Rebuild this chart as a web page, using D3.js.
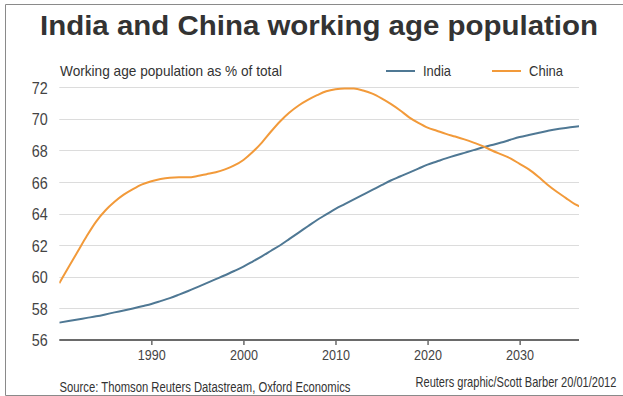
<!DOCTYPE html>
<html>
<head>
<meta charset="utf-8">
<script src="https://cdn.jsdelivr.net/npm/d3@7"></script>
<style>
  html, body { margin: 0; padding: 0; background: #fff; }
  svg { display: block; }
  .narrow { font-family: "Liberation Sans Narrow", "Arial Narrow", "Liberation Sans", Arial, sans-serif; }
</style>
</head>
<body>
<svg id="chart" width="623" height="396"></svg>
<script>
const years = d3.range(1980, 2038);

const india = [
  57.10, 57.20, 57.30, 57.40, 57.50, 57.62, 57.75, 57.87, 58.00, 58.14,
  58.28, 58.46, 58.65, 58.87, 59.10, 59.35, 59.60, 59.85, 60.10, 60.37,
  60.65, 60.97, 61.30, 61.65, 62.00, 62.40, 62.80, 63.20, 63.60, 63.95,
  64.30, 64.60, 64.90, 65.20, 65.50, 65.80, 66.10, 66.35, 66.60, 66.85,
  67.10, 67.30, 67.50, 67.68, 67.85, 68.02, 68.20, 68.35, 68.50, 68.68,
  68.85, 68.98, 69.10, 69.23, 69.35, 69.43, 69.50, 69.58
];

const china = [
  59.60, 60.60, 61.60, 62.60, 63.50, 64.20, 64.75, 65.20, 65.55, 65.85,
  66.05, 66.20, 66.28, 66.30, 66.30, 66.38, 66.50, 66.62, 66.80, 67.05,
  67.40, 67.90, 68.50, 69.20, 69.85, 70.40, 70.85, 71.20, 71.50, 71.75,
  71.88, 71.93, 71.92, 71.80, 71.60, 71.30, 70.95, 70.55, 70.10, 69.75,
  69.45, 69.25, 69.05, 68.88, 68.70, 68.50, 68.28, 68.00, 67.75, 67.50,
  67.15, 66.80, 66.35, 65.85, 65.40, 65.00, 64.60, 64.35
];

const yTicks = [56, 58, 60, 62, 64, 66, 68, 70, 72];
const xTicks = [1990, 2000, 2010, 2020, 2030];
const seriesNames = ["India", "China"];

const colors = { India: "#4f7894", China: "#f29a3a" };

const svg = d3.select("#chart");

const plot = { left: 59.3, right: 579, top: 87.3, bottom: 340 };

const x = d3.scaleLinear().domain([1980, 2036.45]).range([plot.left, plot.right]);
const y = d3.scaleLinear().domain([56, 72]).range([plot.bottom, plot.top]);

// frame
svg.append("path")
  .attr("d", `M623,4.5 H5.5 V395.5 H623`)
  .attr("fill", "none").attr("stroke", "#8a8a8a").attr("stroke-width", 1);

// title
svg.append("text")
  .attr("x", 40).attr("y", 35)
  .style("font-family", "'Liberation Sans', Arial, sans-serif")
  .style("font-weight", "bold")
  .style("font-size", "27.5px")
  .attr("fill", "#333")
  .attr("textLength", 558).attr("lengthAdjust", "spacingAndGlyphs")
  .text("India and China working age population");

// subtitle
svg.append("text").attr("class", "narrow")
  .attr("x", 60).attr("y", 76)
  .style("font-size", "15px").attr("fill", "#333")
  .attr("textLength", 222).attr("lengthAdjust", "spacingAndGlyphs")
  .text("Working age population as % of total");

// gridlines
svg.append("g").selectAll("line")
  .data(yTicks.filter(d => d !== 56))
  .join("line")
  .attr("x1", plot.left).attr("x2", plot.right)
  .attr("y1", d => Math.round(y(d)) + 0.5).attr("y2", d => Math.round(y(d)) + 0.5)
  .attr("stroke", "#dcdcdc").attr("stroke-width", 1);

// y labels
const yAxis = d3.axisLeft(y).tickValues(yTicks).tickSize(0).tickPadding(11.5);
const gy = svg.append("g").attr("transform", `translate(${plot.left},0)`).call(yAxis);
gy.select(".domain").remove();
gy.selectAll("text").attr("class", "narrow")
  .style("font-size", "16.5px").attr("fill", "#444").attr("dy", "0.36em")
  .attr("textLength", 16).attr("lengthAdjust", "spacingAndGlyphs");

// x axis
const xAxis = d3.axisBottom(x).tickValues(xTicks).tickFormat(d3.format("d")).tickSize(5).tickPadding(4);
const gx = svg.append("g").attr("transform", `translate(0,${plot.bottom})`).call(xAxis);
gx.select(".domain").remove();
gx.selectAll(".tick line").attr("stroke", "#444").attr("stroke-width", 1.2);
gx.selectAll("text").attr("class", "narrow")
  .style("font-size", "15px").attr("fill", "#444")
  .attr("textLength", 28).attr("lengthAdjust", "spacingAndGlyphs");
svg.append("line")
  .attr("x1", plot.left).attr("x2", plot.right)
  .attr("y1", plot.bottom).attr("y2", plot.bottom)
  .attr("stroke", "#6a6a6a").attr("stroke-width", 2);

// clip
svg.append("clipPath").attr("id", "clip")
  .append("rect").attr("x", plot.left).attr("y", 0)
  .attr("width", plot.right - plot.left).attr("height", 396);

const line = d3.line().x((d, i) => x(years[i])).y(d => y(d)).curve(d3.curveMonotoneX);

const data = { India: india, China: china };
svg.append("g").attr("clip-path", "url(#clip)")
  .selectAll("path")
  .data(seriesNames)
  .join("path")
  .attr("d", n => line(data[n]))
  .attr("fill", "none")
  .attr("stroke", n => colors[n])
  .attr("stroke-width", 2)
  .attr("stroke-linejoin", "round");

// legend
const legend = [
  { name: "India", x1: 386, x2: 415, tx: 423, w: 28 },
  { name: "China", x1: 492, x2: 521, tx: 529, w: 34 }
];
const lg = svg.append("g");
lg.selectAll("line").data(legend).join("line")
  .attr("x1", d => d.x1).attr("x2", d => d.x2)
  .attr("y1", 71).attr("y2", 71)
  .attr("stroke", d => colors[d.name]).attr("stroke-width", 2);
lg.selectAll("text").data(legend).join("text").attr("class", "narrow")
  .attr("x", d => d.tx).attr("y", 76)
  .style("font-size", "15px").attr("fill", "#333")
  .attr("textLength", d => d.w).attr("lengthAdjust", "spacingAndGlyphs")
  .text(d => d.name);

// footer
svg.append("text").attr("class", "narrow")
  .attr("x", 59.5).attr("y", 392)
  .style("font-size", "14px").attr("fill", "#333")
  .attr("textLength", 291).attr("lengthAdjust", "spacingAndGlyphs")
  .text("Source: Thomson Reuters Datastream, Oxford Economics");

// credit: scaled horizontally so its box stays inside the page
const credit = svg.append("text").attr("class", "narrow")
  .attr("x", 0).attr("y", 0)
  .style("font-size", "14px").attr("fill", "#333")
  .text("Reuters graphic/Scott Barber 20/01/2012");
const cw = credit.node().getComputedTextLength();
const targetW = 201;
credit.attr("transform", `translate(415.5,387) scale(${targetW / cw},1)`);
</script>
</body>
</html>
